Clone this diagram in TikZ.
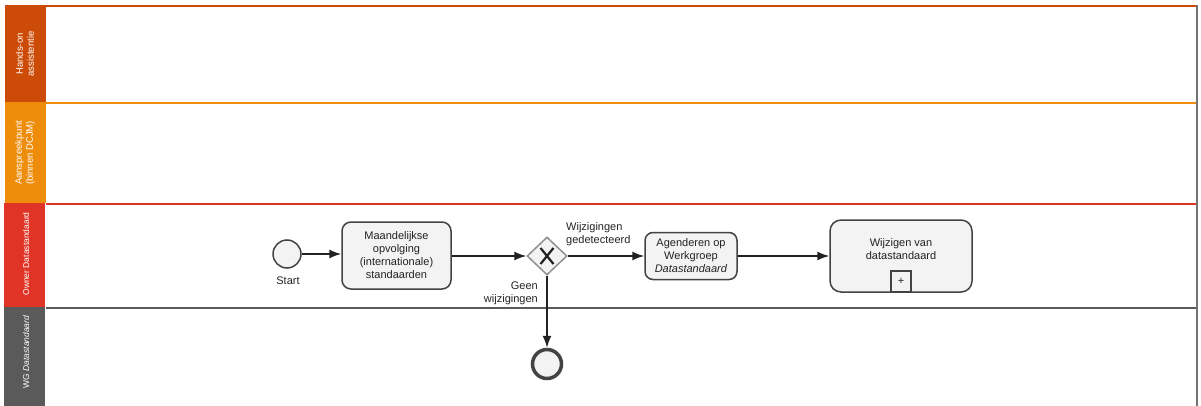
\documentclass[tikz,border=0pt]{standalone}
\usepackage{fontspec}
\setmainfont{Liberation Sans}
\usetikzlibrary{arrows.meta,shapes.geometric}
\definecolor{laneA}{HTML}{CC4B06}
\definecolor{laneB}{HTML}{EE8D0B}
\definecolor{laneC}{HTML}{E03526}
\definecolor{laneD}{HTML}{5A5A5A}
\definecolor{boxfill}{HTML}{F3F3F3}
\definecolor{ink}{HTML}{222222}
\tikzset{
  lanehead/.style={rotate=90, text=white, align=center, inner sep=0pt,
    font=\fontsize{8.5}{10}\selectfont},
  bighead/.style={lanehead, font=\fontsize{9.5}{11}\selectfont},
  txt/.style={font=\fontsize{11}{13}\selectfont, inner sep=0pt, text=ink},
  task/.style={txt, draw=ink!85, fill=boxfill, line width=1.5pt,
    rounded corners=9pt, align=center},
  evt/.style={circle, draw=ink!85, fill=boxfill, inner sep=0pt, line width=1.5pt},
  gate/.style={diamond, draw=ink!50, fill=boxfill, inner sep=0pt, line width=1.5pt,
    minimum width=40pt, minimum height=38pt},
  flow/.style={draw=ink, line width=1.5pt, -{Latex[length=12pt,width=9pt]}},
}
\begin{document}
\begin{tikzpicture}[x=1pt,y=-1pt]
\useasboundingbox (0,0) rectangle (1201,406);
% pool header column, one coloured block per lane
\fill[laneA] (5,5) rectangle (46,102.5);
\fill[laneB] (5,102.5) rectangle (46,202.5);
\fill[laneC] (4,202.5) rectangle (45,307);
\fill[laneD] (4,307) rectangle (45,406);
% lane separators and right border
\draw[laneA, line width=2pt] (46,6) -- (1197,6);
\draw[laneB, line width=2pt] (46,103.5) -- (1197,103.5);
\draw[laneC, line width=2pt] (46,203.5) -- (1197,203.5);
\draw[laneD, line width=2pt] (46,308) -- (1197,308);
\draw[laneD!85, line width=2pt] (1197,5) -- (1197,406);
% lane titles
\node[bighead] (hA) at (25,54) {Hands-on\\assistentie};
\node[bighead] (hB) at (25,153) {Aanspreekpunt\\(binnen DCJM)};
\node[lanehead] (hC) at (26,254) {Owner Datastandaard};
\node[lanehead] (hD) at (26,352) {WG \textit{Datastandaard}};
% process elements
\node[evt, minimum size=28pt] (start) at (287,254) {};
\node[txt, anchor=north] (startlbl) at (288,277) {Start};
\node[task, minimum width=109pt, minimum height=67pt] (t1) at (396.5,255.5)
  {Maandelijkse\\opvolging\\(internationale)\\standaarden};
\node[gate] (gw) at (547,256) {};
\draw[ink, line width=2.2pt] ([shift={(-6.5,-8)}]gw.center) -- ([shift={(6.5,8)}]gw.center);
\draw[ink, line width=2.2pt] ([shift={(-6.5,8)}]gw.center) -- ([shift={(6.5,-8)}]gw.center);
\node[task, rounded corners=8pt, minimum width=92pt, minimum height=47pt] (t2) at (691,256)
  {Agenderen op\\Werkgroep\\\textit{Datastandaard}};
\node[task, rounded corners=11pt, minimum width=142pt, minimum height=72pt,
  text depth=14pt] (t3) at (901,256) {Wijzigen van\\datastandaard};
\node[txt, draw=ink!85, fill=boxfill, line width=1.3pt, minimum width=20pt,
  minimum height=21pt, anchor=south] (sub) at (t3.south) {+};
\node[evt, minimum size=29pt, line width=3.5pt] (end) at (547,364) {};
% sequence flows
\draw[flow] (start.east) -- (start.east -| t1.west);
\draw[flow] (t1.east |- gw.west) -- (gw.west);
\draw[flow] (gw.east) -- (t2.west);
\draw[flow] (t2.east) -- (t3.west);
\draw[flow] (gw.south) -- (end.north);
% flow labels
\node[txt, anchor=west, align=left] (lblyes) at (566,234) {Wijzigingen\\gedetecteerd};
\node[txt, anchor=east, align=right] (lblno) at (538,293) {Geen\\wijzigingen};
\end{tikzpicture}
\end{document}
